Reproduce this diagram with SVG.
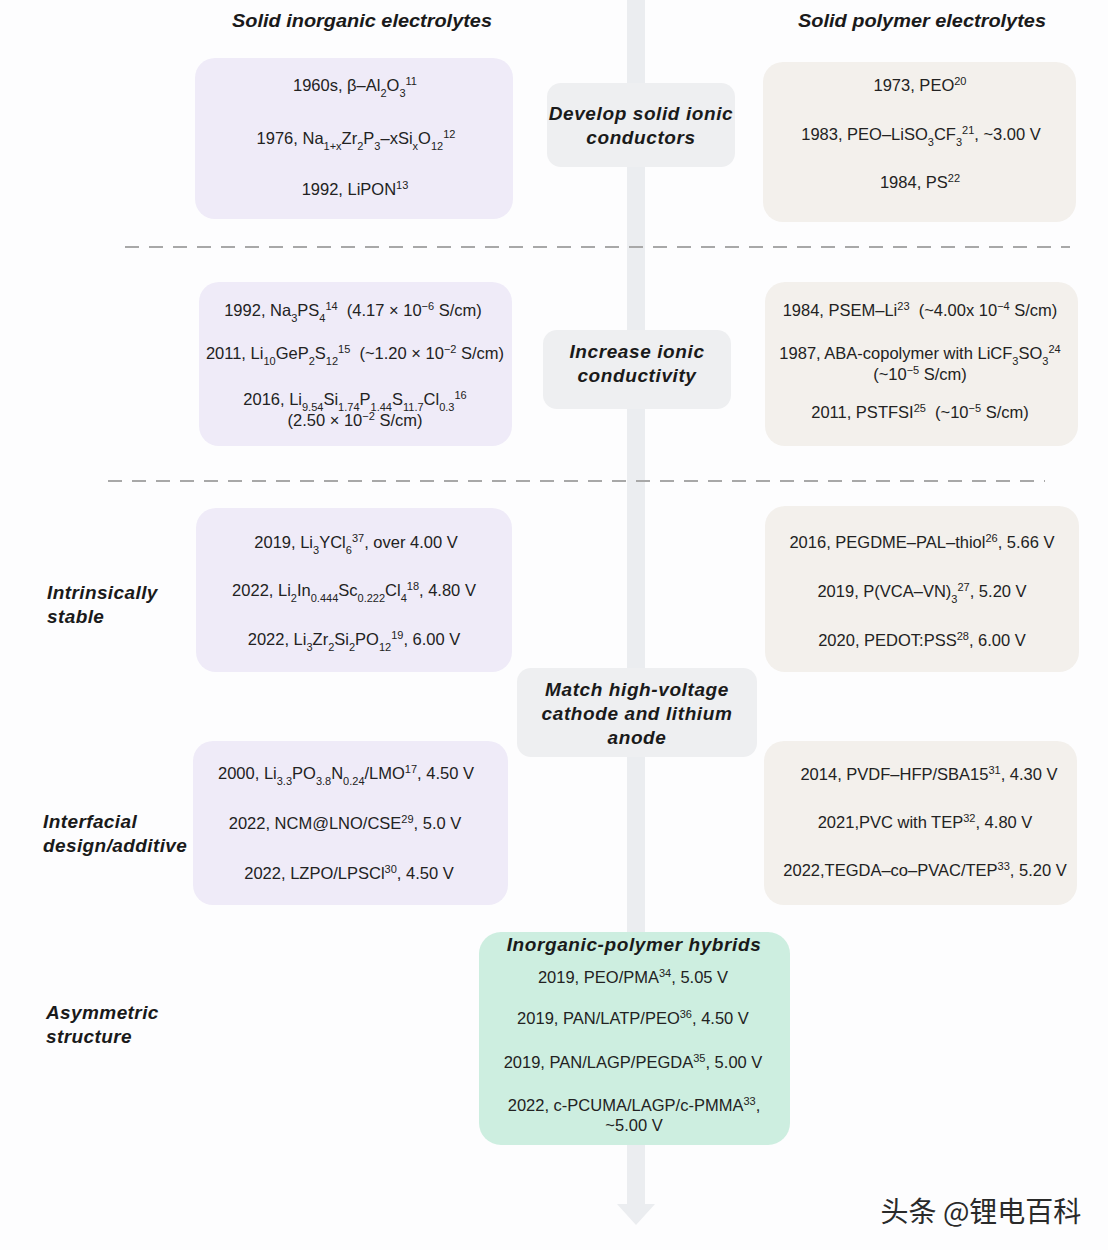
<svg xmlns="http://www.w3.org/2000/svg" width="1108" height="1250" viewBox="0 0 1108 1250">
<style>
.t{font-family:"Liberation Sans",Arial,sans-serif;font-size:16.5px;fill:#222;text-anchor:middle;white-space:pre}
.s{font-size:11px;baseline-shift:sub}
.p{font-size:11px;baseline-shift:super}
.h{font-family:"Liberation Sans",Arial,sans-serif;font-size:19px;font-weight:bold;font-style:italic;fill:#1a1a1a}
.c{font-family:"Liberation Sans",Arial,sans-serif;font-size:19px;font-weight:bold;font-style:italic;fill:#1a1a1a;text-anchor:middle;letter-spacing:0.6px}
.l{font-family:"Liberation Sans",Arial,sans-serif;font-size:19px;font-weight:bold;font-style:italic;fill:#1a1a1a;letter-spacing:0.4px}
.inorg{fill:#efebf8}
.poly{fill:#f3f0ec}
.lab{fill:#eeeff1}
.dash{stroke:#a8a8a8;stroke-width:2;stroke-dasharray:14 10;fill:none}
</style>
<rect x="0" y="0" width="1108" height="1250" fill="#fdfdfe"/>
<g id="connectors">
<path d="M627 0 L645 0 L645 1204 L655 1204 L636 1225 L617 1204 L627 1204 Z" fill="#ebedf0"/>
<line class="dash" x1="125" y1="247" x2="1070" y2="247"/>
<line class="dash" x1="108" y1="481" x2="1045" y2="481"/>
</g>
<g id="headers">
<text class="h" x="362" y="27" text-anchor="middle" textLength="260" lengthAdjust="spacingAndGlyphs">Solid inorganic electrolytes</text>
<text class="h" x="922" y="27" text-anchor="middle" textLength="248" lengthAdjust="spacingAndGlyphs">Solid polymer electrolytes</text>
</g>
<g id="side-labels">
<text class="l" x="47" y="599">Intrinsically</text>
<text class="l" x="47" y="623">stable</text>
<text class="l" x="43" y="828">Interfacial</text>
<text class="l" x="43" y="852">design/additive</text>
<text class="l" x="46" y="1019">Asymmetric</text>
<text class="l" x="46" y="1043">structure</text>
</g>
<g id="label-develop">
<rect class="lab" x="547" y="83" width="188" height="84" rx="14"/>
<text class="c" x="641" y="120">Develop solid ionic</text>
<text class="c" x="641" y="144">conductors</text>
</g>
<g id="label-increase">
<rect class="lab" x="543" y="330" width="188" height="79" rx="14"/>
<text class="c" x="637" y="358">Increase ionic</text>
<text class="c" x="637" y="382">conductivity</text>
</g>
<g id="label-match">
<rect class="lab" x="517" y="668" width="240" height="89" rx="14"/>
<text class="c" x="637" y="696">Match high-voltage</text>
<text class="c" x="637" y="720">cathode and lithium</text>
<text class="c" x="637" y="744">anode</text>
</g>
<g id="inorg-1">
<rect class="inorg" x="195" y="58" width="318" height="161" rx="20"/>
<text class="t" x="355" y="91">1960s, β–Al<tspan class="s">2</tspan>O<tspan class="s">3</tspan><tspan class="p">11</tspan></text>
<text class="t" x="356" y="144">1976, Na<tspan class="s">1+x</tspan>Zr<tspan class="s">2</tspan>P<tspan class="s">3</tspan>–xSi<tspan class="s">x</tspan>O<tspan class="s">12</tspan><tspan class="p">12</tspan></text>
<text class="t" x="355" y="195">1992, LiPON<tspan class="p">13</tspan></text>
</g>
<g id="poly-1">
<rect class="poly" x="763" y="62" width="313" height="160" rx="20"/>
<text class="t" x="920" y="91">1973, PEO<tspan class="p">20</tspan></text>
<text class="t" x="921" y="140">1983, PEO–LiSO<tspan class="s">3</tspan>CF<tspan class="s">3</tspan><tspan class="p">21</tspan>, ~3.00 V</text>
<text class="t" x="920" y="188">1984, PS<tspan class="p">22</tspan></text>
</g>
<g id="inorg-2">
<rect class="inorg" x="199" y="282" width="313" height="164" rx="20"/>
<text class="t" x="353" y="316">1992, Na<tspan class="s">3</tspan>PS<tspan class="s">4</tspan><tspan class="p">14</tspan>  (4.17 × 10<tspan class="p">−6</tspan> S/cm)</text>
<text class="t" x="355" y="359">2011, Li<tspan class="s">10</tspan>GeP<tspan class="s">2</tspan>S<tspan class="s">12</tspan><tspan class="p">15</tspan>  (~1.20 × 10<tspan class="p">−2</tspan> S/cm)</text>
<text class="t" x="355" y="405">2016, Li<tspan class="s">9.54</tspan>Si<tspan class="s">1.74</tspan>P<tspan class="s">1.44</tspan>S<tspan class="s">11.7</tspan>Cl<tspan class="s">0.3</tspan><tspan class="p">16</tspan></text>
<text class="t" x="355" y="426">(2.50 × 10<tspan class="p">−2</tspan> S/cm)</text>
</g>
<g id="poly-2">
<rect class="poly" x="765" y="282" width="313" height="164" rx="20"/>
<text class="t" x="920" y="316">1984, PSEM–Li<tspan class="p">23</tspan>  (~4.00x 10<tspan class="p">−4</tspan> S/cm)</text>
<text class="t" x="920" y="359">1987, ABA-copolymer with LiCF<tspan class="s">3</tspan>SO<tspan class="s">3</tspan><tspan class="p">24</tspan></text>
<text class="t" x="920" y="380">(~10<tspan class="p">−5</tspan> S/cm)</text>
<text class="t" x="920" y="418">2011, PSTFSI<tspan class="p">25</tspan>  (~10<tspan class="p">−5</tspan> S/cm)</text>
</g>
<g id="inorg-3">
<rect class="inorg" x="196" y="508" width="316" height="164" rx="20"/>
<text class="t" x="356" y="548">2019, Li<tspan class="s">3</tspan>YCl<tspan class="s">6</tspan><tspan class="p">37</tspan>, over 4.00 V</text>
<text class="t" x="354" y="596">2022, Li<tspan class="s">2</tspan>In<tspan class="s">0.444</tspan>Sc<tspan class="s">0.222</tspan>Cl<tspan class="s">4</tspan><tspan class="p">18</tspan>, 4.80 V</text>
<text class="t" x="354" y="645">2022, Li<tspan class="s">3</tspan>Zr<tspan class="s">2</tspan>Si<tspan class="s">2</tspan>PO<tspan class="s">12</tspan><tspan class="p">19</tspan>, 6.00 V</text>
</g>
<g id="poly-3">
<rect class="poly" x="765" y="506" width="314" height="166" rx="20"/>
<text class="t" x="922" y="548">2016, PEGDME–PAL–thiol<tspan class="p">26</tspan>, 5.66 V</text>
<text class="t" x="922" y="597">2019, P(VCA–VN)<tspan class="s">3</tspan><tspan class="p">27</tspan>, 5.20 V</text>
<text class="t" x="922" y="646">2020, PEDOT:PSS<tspan class="p">28</tspan>, 6.00 V</text>
</g>
<g id="inorg-4">
<rect class="inorg" x="193" y="741" width="315" height="164" rx="20"/>
<text class="t" x="346" y="779">2000, Li<tspan class="s">3.3</tspan>PO<tspan class="s">3.8</tspan>N<tspan class="s">0.24</tspan>/LMO<tspan class="p">17</tspan>, 4.50 V</text>
<text class="t" x="345" y="829">2022, NCM@LNO/CSE<tspan class="p">29</tspan>, 5.0 V</text>
<text class="t" x="349" y="879">2022, LZPO/LPSCl<tspan class="p">30</tspan>, 4.50 V</text>
</g>
<g id="poly-4">
<rect class="poly" x="764" y="741" width="313" height="164" rx="20"/>
<text class="t" x="929" y="780">2014, PVDF–HFP/SBA15<tspan class="p">31</tspan>, 4.30 V</text>
<text class="t" x="925" y="828">2021,PVC with TEP<tspan class="p">32</tspan>, 4.80 V</text>
<text class="t" x="925" y="876">2022,TEGDA–co–PVAC/TEP<tspan class="p">33</tspan>, 5.20 V</text>
</g>
<g id="hybrid">
<rect x="479" y="932" width="311" height="213" rx="22" fill="#cdeee0"/>
<text class="c" x="634" y="951">Inorganic-polymer hybrids</text>
<text class="t" x="633" y="983">2019, PEO/PMA<tspan class="p">34</tspan>, 5.05 V</text>
<text class="t" x="633" y="1024">2019, PAN/LATP/PEO<tspan class="p">36</tspan>, 4.50 V</text>
<text class="t" x="633" y="1068">2019, PAN/LAGP/PEGDA<tspan class="p">35</tspan>, 5.00 V</text>
<text class="t" x="634" y="1111">2022, c-PCUMA/LAGP/c-PMMA<tspan class="p">33</tspan>,</text>
<text class="t" x="634" y="1131">~5.00 V</text>
</g>
<text x="981" y="1222" text-anchor="middle" font-family="'Noto Sans CJK SC','Liberation Sans',sans-serif" font-size="28" fill="#2a2a2a">头条 @锂电百科</text>
</svg>
